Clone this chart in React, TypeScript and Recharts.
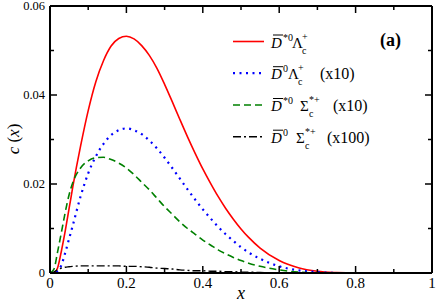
import { LineChart, Line, XAxis, YAxis, Customized } from "recharts";

// x grid (momentum fraction) and the four curves
const xs = [0, 0.01, 0.02, 0.03, 0.04, 0.05, 0.06, 0.08, 0.1, 0.12, 0.14, 0.16, 0.18, 0.2, 0.22, 0.24, 0.26, 0.28, 0.3, 0.32, 0.34, 0.36, 0.38, 0.4, 0.42, 0.44, 0.46, 0.48, 0.5, 0.52, 0.55, 0.6, 0.65, 0.7, 0.75, 0.8, 0.9, 1.0];

// D*0 Lambda_c+
const dStarLambda = [0, 0, 0.0012, 0.005, 0.0095, 0.0145, 0.0195, 0.0285, 0.0365, 0.043, 0.0477, 0.051, 0.0527, 0.0532, 0.0526, 0.0511, 0.0489, 0.046, 0.0424, 0.0385, 0.0345, 0.0306, 0.0269, 0.0234, 0.0202, 0.0172, 0.0145, 0.0121, 0.0099, 0.008, 0.0056, 0.0028, 0.0012, 0.0004, 0.0001, 0, 0, 0];
// D0 Lambda_c+ (x10)
const dLambda = [0, 0, 0.0005, 0.0018, 0.0046, 0.0077, 0.0108, 0.0172, 0.0224, 0.0262, 0.029, 0.031, 0.0321, 0.0325, 0.0321, 0.0312, 0.0298, 0.028, 0.0259, 0.0236, 0.0212, 0.0188, 0.0165, 0.0143, 0.0123, 0.0104, 0.0087, 0.0072, 0.0058, 0.0046, 0.0032, 0.0015, 0.0006, 0.0002, 0, 0, 0, 0];
// D*0 Sigma_c*+ (x10)
const dStarSigma = [0, 0.0008, 0.0048, 0.0092, 0.0137, 0.0176, 0.0204, 0.0236, 0.0252, 0.0259, 0.026, 0.0255, 0.0247, 0.0236, 0.0221, 0.0204, 0.0187, 0.0168, 0.0149, 0.0132, 0.0115, 0.01, 0.0087, 0.0074, 0.0063, 0.0052, 0.0043, 0.0035, 0.0028, 0.0022, 0.0015, 0.0007, 0.0002, 0, 0, 0, 0, 0];
// D0 Sigma_c*+ (x100)
const dSigma = [0, 0.0002, 0.0008, 0.0011, 0.0013, 0.0014, 0.0015, 0.0016, 0.0016, 0.0016, 0.0016, 0.0016, 0.0016, 0.0015, 0.0015, 0.0014, 0.0013, 0.0011, 0.001, 0.0009, 0.0007, 0.0006, 0.0005, 0.0005, 0.0004, 0.0004, 0.0003, 0.0003, 0.0002, 0.0002, 0.0001, 0, 0, 0, 0, 0, 0, 0];

const xTicks = [0, 0.1, 0.2, 0.3, 0.4, 0.5, 0.6, 0.7, 0.8, 0.9, 1];
const xTickLabels = ["0", "", "0.2", "", "0.4", "", "0.6", "", "0.8", "", "1"];
const yTicks = [0, 0.01, 0.02, 0.03, 0.04, 0.05, 0.06];
const yTickLabels = ["0", "", "0.02", "", "0.04", "", "0.06"];

const data = xs.map((x, i) => ({
  x,
  dStarLambda: dStarLambda[i],
  dLambda: dLambda[i],
  dStarSigma: dStarSigma[i],
  dSigma: dSigma[i],
}));

const serif = { fontFamily: "Liberation Serif, Times New Roman, Times, DejaVu Serif, serif" };
const MAJOR = 7;
const MINOR = 4;

function BottomTick({ x, y, index }: any) {
  const major = index % 2 === 0;
  return (
    <g>
      <line x1={x} x2={x} y1={y} y2={y - (major ? MAJOR : MINOR)} stroke="#000" strokeWidth={1.5} />
      {major && (
        <text x={x} y={y + 15} textAnchor="middle" fontSize={15} style={serif} fill="#000">
          {xTickLabels[index]}
        </text>
      )}
    </g>
  );
}

function TopTick({ x, y, index }: any) {
  const major = index % 2 === 0;
  return <line x1={x} x2={x} y1={y} y2={y + (major ? MAJOR : MINOR)} stroke="#000" strokeWidth={1.5} />;
}

function LeftTick({ x, y, index }: any) {
  const major = index % 2 === 0;
  return (
    <g>
      <line x1={x} x2={x + (major ? MAJOR : MINOR)} y1={y} y2={y} stroke="#000" strokeWidth={1.5} />
      {major && (
        <text x={x - 5} y={y + 4} textAnchor="end" fontSize={12.5} style={serif} fill="#000">
          {yTickLabels[index]}
        </text>
      )}
    </g>
  );
}

function RightTick({ x, y, index }: any) {
  const major = index % 2 === 0;
  return <line x1={x} x2={x - (major ? MAJOR : MINOR)} y1={y} y2={y} stroke="#000" strokeWidth={1.5} />;
}

const styles = {
  dStarLambda: { stroke: "#ff0000", width: 1.6, dash: undefined },
  dLambda: { stroke: "#0000ff", width: 2.2, dash: "2 4.5" },
  dStarSigma: { stroke: "#008000", width: 1.6, dash: "7 4" },
  dSigma: { stroke: "#000000", width: 1.4, dash: "8 3 2 3" },
};

// one legend row: sample line, then D-bar with charge, baryon with sub/superscript, scale note
function Row({ y, k, star, baryon, bx, sx, sup, tail, tx }: any) {
  const s = (styles as any)[k];
  const b = y + 6;
  return (
    <g style={serif} fill="#000">
      <line x1={233} x2={264} y1={y} y2={y} stroke={s.stroke} strokeWidth={s.width} strokeDasharray={s.dash} />
      <text x={271} y={b} fontSize={15} fontStyle="italic">D</text>
      <line x1={273} x2={283} y1={b - 12.5} y2={b - 12.5} stroke="#000" strokeWidth={1} />
      <text x={283} y={b - 7} fontSize={10}>{star ? "*0" : "0"}</text>
      <text x={bx} y={b} fontSize={15}>{baryon}</text>
      <text x={sx} y={b + 6} fontSize={10}>c</text>
      <text x={sx} y={b - 8} fontSize={10}>{sup}</text>
      {tail && <text x={tx} y={b} fontSize={16}>{tail}</text>}
    </g>
  );
}

function Legend() {
  return (
    <g>
      <Row y={41.5} k="dStarLambda" star baryon="Λ" bx={292} sx={302} sup="+" />
      <Row y={73.2} k="dLambda" baryon="Λ" bx={288} sx={298} sup="+" tail="(x10)" tx={320} />
      <Row y={105} k="dStarSigma" star baryon="Σ" bx={300} sx={309} sup="*+" tail="(x10)" tx={333} />
      <Row y={136.7} k="dSigma" baryon="Σ" bx={296} sx={305} sup="*+" tail="(x100)" tx={327} />
      <text x={380} y={46} fontSize={18} fontWeight="bold" style={serif}>(a)</text>
      <text x={241} y={299} fontSize={18} fontStyle="italic" textAnchor="middle" style={serif}>x</text>
      <text transform="translate(19,139) rotate(-90)" fontSize={17} textAnchor="middle" style={serif}>
        <tspan fontStyle="italic">c</tspan> (<tspan fontStyle="italic">x</tspan>)
      </text>
    </g>
  );
}

const axisLine = { stroke: "#000", strokeWidth: 2 };

export default function App() {
  return (
    <div style={{ position: "absolute", left: 0, top: 0, width: 436, height: 302, background: "#fff" }}>
      <LineChart width={436} height={302} data={data} margin={{ top: 5, right: 3, left: 5, bottom: 0 }}>
        <XAxis xAxisId="b" dataKey="x" type="number" domain={[0, 1]} allowDataOverflow ticks={xTicks} interval={0}
          height={29} tickSize={0} tickMargin={0} tick={<BottomTick />} axisLine={axisLine} />
        <XAxis xAxisId="t" orientation="top" dataKey="x" type="number" domain={[0, 1]} allowDataOverflow ticks={xTicks} interval={0}
          height={1} tickSize={0} tickMargin={0} tick={<TopTick />} axisLine={axisLine} />
        <YAxis yAxisId="l" type="number" domain={[0, 0.06]} allowDataOverflow ticks={yTicks} interval={0}
          width={45} tickSize={0} tickMargin={0} tick={<LeftTick />} axisLine={axisLine} />
        <YAxis yAxisId="r" orientation="right" type="number" domain={[0, 0.06]} allowDataOverflow ticks={yTicks} interval={0}
          width={1} tickSize={0} tickMargin={0} tick={<RightTick />} axisLine={axisLine} />
        {(["dStarLambda", "dLambda", "dStarSigma", "dSigma"] as const).map((k) => (
          <Line key={k} xAxisId="b" yAxisId="l" dataKey={k} type="monotone" dot={false} activeDot={false}
            stroke={styles[k].stroke} strokeWidth={styles[k].width} strokeDasharray={styles[k].dash}
            isAnimationActive={false} />
        ))}
        <Customized component={Legend} />
      </LineChart>
    </div>
  );
}
